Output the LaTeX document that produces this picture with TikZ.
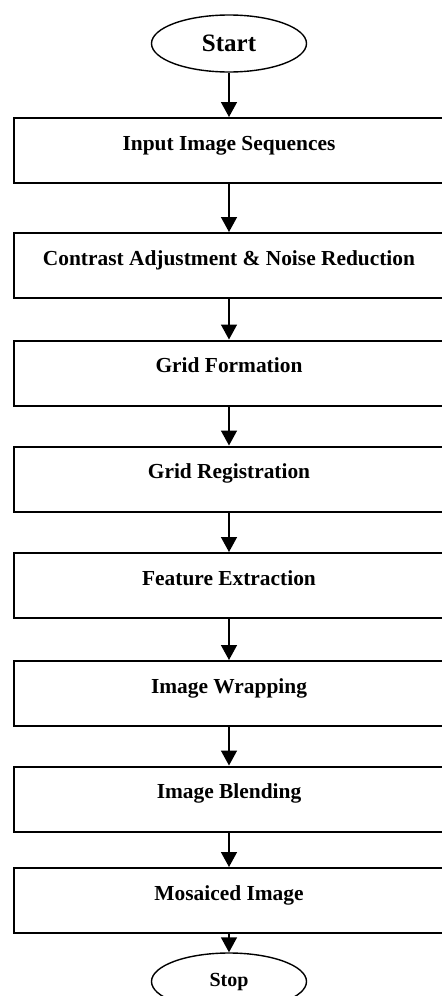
\documentclass[tikz,border=0pt]{standalone}
\usepackage{fontspec}
\setmainfont{Liberation Serif}
\usetikzlibrary{shapes.geometric,arrows.meta}
\begin{document}
\begin{tikzpicture}[x=0.5pt,y=-0.5pt,
		stepbox/.style={draw,line width=1pt,minimum width=215pt,minimum height=32.5pt,inner sep=0pt,font=\fontsize{10.7}{13}\selectfont\bfseries,text height=8pt,text depth=8.5pt},
		term/.style={draw,ellipse,line width=0.7pt,minimum width=77.5pt,minimum height=28.5pt,inner sep=0pt,font=\bfseries},
		arr/.style={line width=0.75pt,-{Triangle[width=8pt,length=7.5pt]}}]
		\useasboundingbox (0,0) rectangle (442,996);
	
		\node[term,font=\fontsize{12.5}{15}\selectfont\bfseries] (start) at (229,43.5) {Start};
		
		\node[stepbox] (input) at (229,150.5) {Input Image Sequences};
		\node[stepbox] (contrast) at (229,265.5) {Contrast Adjustment \& Noise Reduction};
		\node[stepbox] (gridform) at (229,373) {Grid Formation};
		\node[stepbox] (gridreg) at (229,479) {Grid Registration};
		\node[stepbox] (feature) at (229,585.5) {Feature Extraction};
		\node[stepbox] (wrapping) at (229,693.5) {Image Wrapping};
		\node[stepbox] (blending) at (229,799) {Image Blending};
		\node[stepbox] (mosaic) at (229,900.5) {Mosaiced Image};
		
		\node[term] (stop) at (229,981.5) {Stop};
		
		\foreach \a/\b in {start/input,input/contrast,contrast/gridform,gridform/gridreg,gridreg/feature,feature/wrapping,wrapping/blending,blending/mosaic,mosaic/stop}
			\draw[arr] (\a) -- (\b);
	\end{tikzpicture}
\end{document}
